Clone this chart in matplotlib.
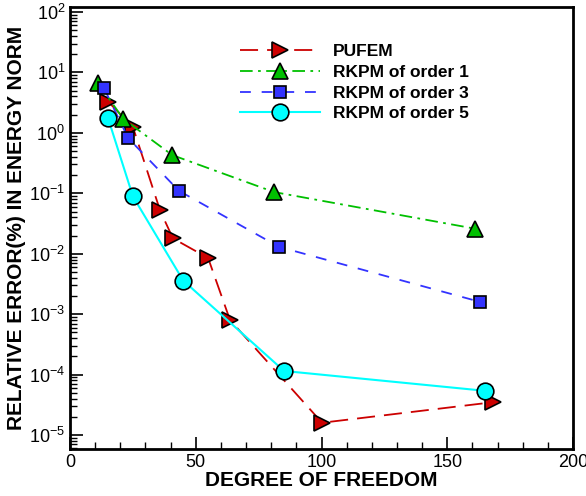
import matplotlib
matplotlib.use("Agg")
import matplotlib.pyplot as plt
from matplotlib.ticker import MultipleLocator, LogLocator, NullFormatter

# data
pufem_x = [15.1, 25.0, 35.8, 40.9, 54.9, 63.6, 100.2, 168.2]
pufem_y = [3.3, 1.25, 0.052, 0.018, 0.0085, 0.0008, 1.6e-5, 3.5e-5]
rk1_x = [11.2, 21.2, 40.6, 81.1, 161.0]
rk1_y = [6.6, 1.7, 0.43, 0.105, 0.026]
rk3_x = [13.5, 23.1, 43.3, 83.1, 163.0]
rk3_y = [5.5, 0.82, 0.11, 0.013, 0.0016]
rk5_x = [15.1, 25.0, 45.0, 85.1, 165.0]
rk5_y = [1.76, 0.089, 0.0036, 1.15e-4, 5.4e-5]

plt.rcParams["font.family"] = ["Liberation Sans", "DejaVu Sans"]
plt.rcParams["mathtext.fontset"] = "custom"
plt.rcParams["mathtext.rm"] = "Liberation Sans"

fig = plt.figure(figsize=(5.86, 4.96), dpi=100)
ax = fig.add_axes([0.1195, 0.0948, 0.8585, 0.8911])

ax.plot(pufem_x, pufem_y, color="#cc0000", lw=1.3, dashes=(10, 5), marker=">",
        ms=12, mfc="#cc0000", mec="black", mew=1.2, label="PUFEM")
ax.plot(rk1_x, rk1_y, color="#00c000", lw=1.3, dashes=(7, 3, 1.5, 3), marker="^",
        ms=12, mfc="#00c000", mec="black", mew=1.2, label="RKPM of order 1")
ax.plot(rk3_x, rk3_y, color="#3333ff", lw=1.3, dashes=(6, 6), marker="s",
        ms=9, mfc="#3333ff", mec="black", mew=1.2, label="RKPM of order 3")
ax.plot(rk5_x, rk5_y, color="#00ffff", lw=1.5, ls="-", marker="o",
        ms=12, mfc="#00ffff", mec="black", mew=1.2, label="RKPM of order 5")

ax.set_yscale("log")
ax.set_xlim(0, 200)
ax.set_ylim(10 ** -5.23, 10 ** 2.083)
ax.xaxis.set_major_locator(MultipleLocator(50))
ax.xaxis.set_minor_locator(MultipleLocator(10))
ax.yaxis.set_major_locator(LogLocator(base=10, numticks=20))
ax.yaxis.set_minor_locator(LogLocator(base=10, subs=range(2, 10), numticks=20))
ax.yaxis.set_minor_formatter(NullFormatter())

ax.tick_params(which="both", direction="in", labelsize=13)
ax.tick_params(which="major", length=9, width=1.2)
ax.tick_params(which="minor", length=5, width=1.0)
for s in ax.spines.values():
    s.set_linewidth(2)

ax.set_xlabel("DEGREE OF FREEDOM", fontsize=15, fontweight="bold", labelpad=0)
ax.set_ylabel("RELATIVE ERROR(%) IN ENERGY NORM", fontsize=15, fontweight="bold", labelpad=2)

ax.legend(loc="upper left", bbox_to_anchor=(0.338, 0.916), frameon=False,
          prop={"weight": "bold", "size": 12.5}, handlelength=4.6,
          handletextpad=0.75, labelspacing=0.32, borderpad=0, borderaxespad=0)

fig.savefig("out.png", dpi=100)
